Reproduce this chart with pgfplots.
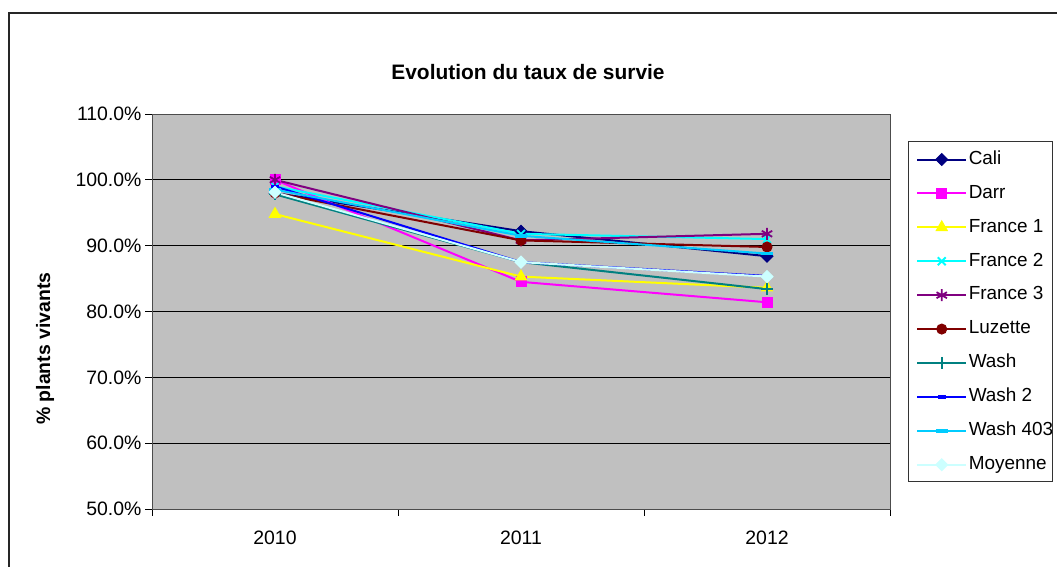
\documentclass[border=0pt]{standalone}
\usepackage{pgfplots}
\pgfplotsset{compat=1.18}
\usepackage{fontspec}
\setmainfont{Liberation Sans}
\definecolor{cali}{HTML}{000080}
\definecolor{darr}{HTML}{FF00FF}
\definecolor{fr1}{HTML}{FFFF00}
\definecolor{fr2}{HTML}{00FFFF}
\definecolor{fr3}{HTML}{800080}
\definecolor{luz}{HTML}{800000}
\definecolor{wash}{HTML}{008080}
\definecolor{washb}{HTML}{0000FF}
\definecolor{washc}{HTML}{00CCFF}
\definecolor{moy}{HTML}{CCFFFF}
\definecolor{plotbg}{HTML}{C0C0C0}
\begin{document}
\begin{tikzpicture}[x=1bp,y=1bp]
\useasboundingbox (0,0) rectangle (1057,567);
\draw[line width=1.2bp, black!85] (9,0) -- (9,554) -- (1057,554);
\node[font=\fontsize{21}{24}\selectfont\bfseries] at (528,495) {Evolution du taux de survie};
\begin{axis}[
  at={(152bp,58bp)}, anchor=south west,
  scale only axis, width=738bp, height=395bp,
  xmin=-0.5, xmax=2.5, ymin=50, ymax=110,
  ytick={50,60,...,110},
  xtick={-0.5,0.5,1.5,2.5}, xticklabels={},
  extra x ticks={0,1,2}, extra x tick labels={2010,2011,2012},
  extra x tick style={major tick length=0pt, tick label style={yshift=-18bp}},
  ymajorgrids, grid style={black, line width=0.8bp},
  tick align=outside, tickpos=left, major tick length=7bp,
  tick style={black, line width=0.8bp},
  axis line style={black!70, line width=0.8bp},
  axis background/.style={fill=plotbg},
  /pgf/number format/assume math mode=true,
  yticklabel={\pgfmathprintnumber[fixed,fixed zerofill,precision=1]{\tick}\%},
  tick label style={font=\fontsize{19.5}{22}\selectfont},
  ylabel={\bfseries \% plants vivants},
  ylabel style={at={(axis description cs:-0.145,0.406)}, anchor=center, font=\fontsize{19.5}{22}\selectfont},
  legend style={at={(1.0285,0.925)}, anchor=north west, draw=none, fill=none,
    font=\fontsize{19}{22}\selectfont, row sep=14.4bp, inner xsep=5bp, inner ysep=6bp,
    nodes={text height=13bp, text depth=3.5bp, inner sep=1.5bp},
    /tikz/every even column/.append style={xshift=3bp}},
  legend cell align=left,
  legend image code/.code={\draw[line width=2bp, mark repeat=2,mark phase=2] plot coordinates {(0bp,0bp) (24.5bp,0bp) (49bp,0bp)};},
  every axis plot/.append style={line width=2bp},
]
\addplot[cali, line width=2bp, mark=square*, mark size=4.2bp, mark options={rotate=45, line width=1bp}] coordinates {(0,98.0) (1,92.2) (2,88.4)};
\addlegendentry{Cali}
\addplot[darr, line width=2bp, mark=square*, mark size=5bp, mark options={line width=1bp}] coordinates {(0,100.0) (1,84.5) (2,81.4)};
\addlegendentry{Darr}
\addplot[fr1, line width=2bp, mark=triangle*, mark size=6.4bp, mark options={line width=1bp}] coordinates {(0,94.8) (1,85.3) (2,83.6)};
\addlegendentry{France 1}
\addplot[fr2, line width=2bp, mark=x, mark size=5.5bp, mark options={line width=1.8bp}] coordinates {(0,99.0) (1,91.8) (2,91.0)};
\addlegendentry{France 2}
\addplot[fr3, line width=2bp, mark=asterisk, mark size=6bp, mark options={line width=1.8bp}] coordinates {(0,100.0) (1,90.8) (2,91.8)};
\addlegendentry{France 3}
\addplot[luz, line width=2bp, mark=*, mark size=5bp, mark options={line width=1bp}] coordinates {(0,98.0) (1,90.8) (2,89.8)};
\addlegendentry{Luzette}
\addplot[wash, line width=2bp, mark=+, mark size=6bp, mark options={line width=1.8bp}] coordinates {(0,97.8) (1,87.5) (2,83.4)};
\addlegendentry{Wash}
\addplot[washb, line width=2bp, mark=-, mark size=4bp, mark options={line width=3.5bp}] coordinates {(0,99.0) (1,87.5) (2,85.4)};
\addlegendentry{Wash 2}
\addplot[washc, line width=2bp, mark=-, mark size=6bp, mark options={line width=3.5bp}] coordinates {(0,98.5) (1,91.5) (2,88.8)};
\addlegendentry{Wash 403}
\addplot[moy, line width=2bp, mark=square*, mark size=4.2bp, mark options={rotate=45, line width=1bp}] coordinates {(0,98.1) (1,87.5) (2,85.3)};
\addlegendentry{Moyenne}
\end{axis}
\draw[line width=0.9bp, black!80] (908,86) rectangle (1052,426);
\end{tikzpicture}
\end{document}
